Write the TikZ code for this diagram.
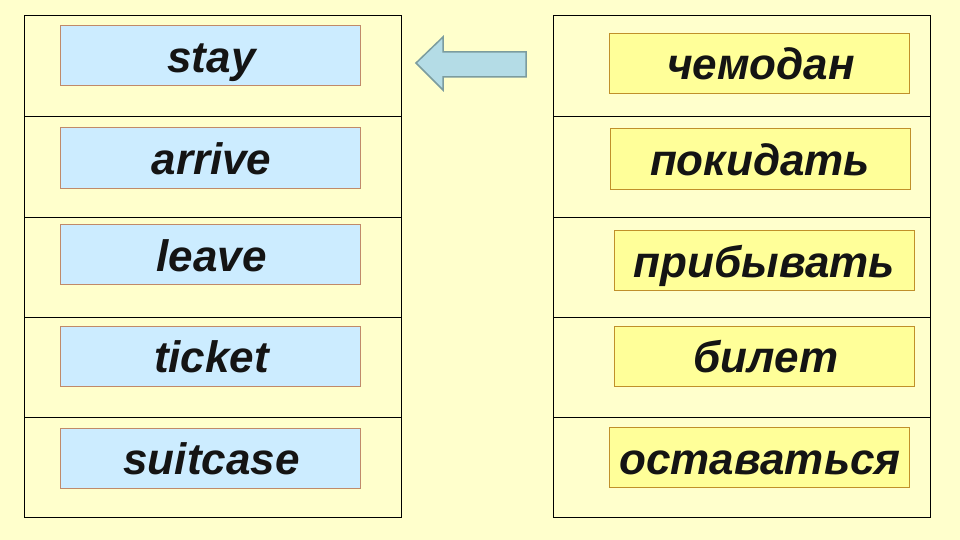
\documentclass[tikz,border=0pt]{standalone}
\usepackage{fontspec}
\setmainfont{Liberation Sans}
\definecolor{bg}{HTML}{FFFFCC}
\definecolor{bluefill}{HTML}{CCECFF}
\definecolor{blueedge}{HTML}{C08A6A}
\definecolor{yelfill}{HTML}{FFFF99}
\definecolor{yeledge}{HTML}{C0902A}
\definecolor{arrfill}{HTML}{B4DCE6}
\definecolor{arredge}{HTML}{7C9C9E}
\tikzset{
  cell/.style={draw=black, line width=1pt},
  word/.style={font=\fontsize{44}{50}\selectfont\bfseries\itshape, text=black!92, minimum width=300pt, minimum height=60pt, inner sep=0pt, text height=37pt, text depth=4pt, line width=1pt},
  engbox/.style={word, fill=bluefill, draw=blueedge},
  rusbox/.style={word, fill=yelfill, draw=yeledge},
  blockarrow/.style={fill=arrfill, draw=arredge, line width=1.5pt, line join=miter}
}
\begin{document}
\begin{tikzpicture}[x=1pt,y=-1pt]
\useasboundingbox (0,0) rectangle (960,540);
\fill[bg] (0,0) rectangle (960,540);
% tables
\draw[cell] (24,16) rectangle (401,517);
\draw[cell] (553,16) rectangle (930,517);
\foreach \y in {117,217,317,417} {
  \draw[cell] (24,\y) -- (401,\y);
  \draw[cell] (553,\y) -- (930,\y);
}
% english
\node[engbox] (e1) at (210,56) {\hspace{3pt}stay};
\node[engbox] (e2) at (210,158) {\hspace{3pt}arrive};
\node[engbox] (e3) at (210,254.5) {\hspace{3pt}leave};
\node[engbox] (e4) at (210,356) {\hspace{3pt}ticket};
\node[engbox] (e5) at (210,458) {\hspace{3pt}suitcase};
% russian
\node[rusbox] (r1) at (759,63.5) {\hspace{4pt}чемодан};
\node[rusbox] (r2) at (760,159) {покидать};
\node[rusbox] (r3) at (764.5,260.5) {прибывать};
\node[rusbox] (r4) at (764.5,356) {\hspace{3pt}билет};
\node[rusbox] (r5) at (759,457.5) {\hspace{2pt}оставаться};
% arrow
\draw[blockarrow] (416,63) -- (443,37) -- (443,52) -- (526,52) -- (526,77) -- (443,77) -- (443,90) -- cycle;
\end{tikzpicture}
\end{document}
